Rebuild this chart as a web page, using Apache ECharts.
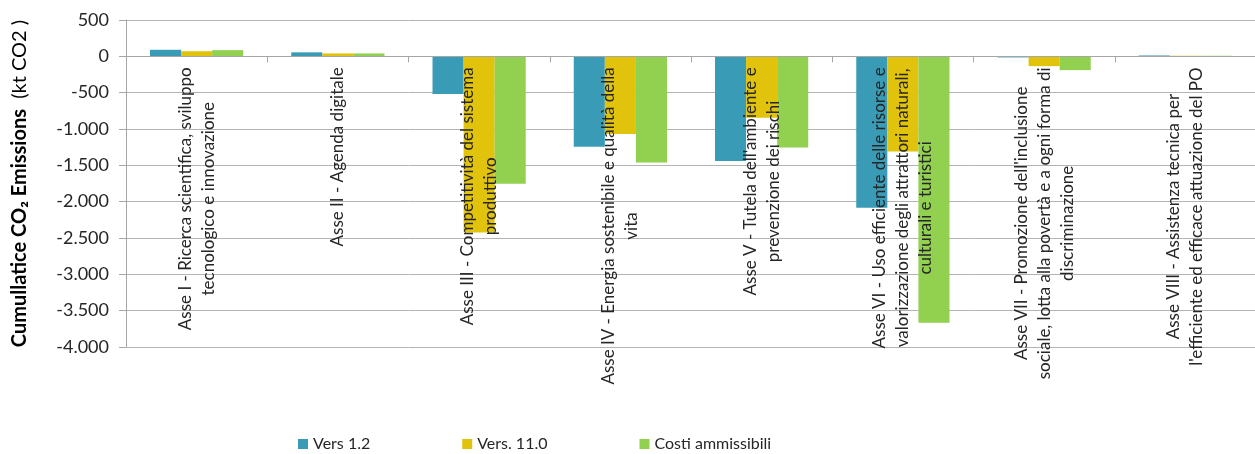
<!DOCTYPE html>
<html>
<head>
<meta charset="utf-8">
<script src="https://cdn.jsdelivr.net/npm/echarts@6/dist/echarts.min.js"></script>
<style>
  html, body { margin: 0; padding: 0; background: #fff; }
  #chart { width: 1255px; height: 454px; }
</style>
</head>
<body>
<div id="chart"></div>
<script>
// Priority axes of the programme (each label split into its display lines)
const categories = [
  ['Asse I - Ricerca scientifica, sviluppo', 'tecnologico e innovazione'],
  ['Asse II - Agenda digitale'],
  ['Asse III - Competitività del sistema', 'produttivo'],
  ['Asse IV - Energia sostenibile e qualità della', 'vita'],
  ['Asse V - Tutela dell\'ambiente e', 'prevenzione dei rischi'],
  ['Asse VI - Uso efficiente delle risorse e', 'valorizzazione degli attrattori naturali,', 'culturali e turistici'],
  ['Asse VII - Promozione dell\'inclusione', 'sociale, lotta alla povertà e a ogni forma di', 'discriminazione'],
  ['Asse VIII - Assistenza tecnica per', 'l\'efficiente ed efficace attuazione del PO']
];

// Cumulative CO2 emissions (kt CO2) per axis
const vers12   = [90, 55, -520, -1245, -1440, -2085, -15, 12];
const vers110  = [70, 40, -2425, -1070, -845, -1310, -135, 8];
const costi    = [85, 40, -1755, -1460, -1255, -3665, -190, 8];

const seriesNames = ['Vers 1.2', 'Vers. 11.0', 'Costi ammissibili'];
const seriesColors = ['#3A9BB7', '#E0C30A', '#92D050'];

const yTicks = { min: -4000, max: 500, step: 500 };

const FONT = 'Lato';
const CHART_H = 454;
const GRID = { left: 126, right: -1, top: 20, bottom: 107 };

// The category axis sits on the zero line, with its labels hanging below it
const plotH = CHART_H - GRID.top - GRID.bottom;
const zeroOffset = -plotH * (0 - yTicks.min) / (yTicks.max - yTicks.min);

function thousands(v) {
  const s = Math.abs(v).toString().replace(/\B(?=(\d{3})+(?!\d))/g, '.');
  return (v < 0 ? '-' : '') + s;
}

const chart = echarts.init(document.getElementById('chart'), null, { renderer: 'canvas' });

chart.setOption({
  animation: false,
  backgroundColor: '#ffffff',
  textStyle: { fontFamily: FONT },
  grid: Object.assign({ containLabel: false, outerBoundsMode: 'none' }, GRID),
  legend: {
    top: 431,
    left: 293,
    itemWidth: 10,
    itemHeight: 10,
    itemGap: 92,
    icon: 'rect',
    textStyle: { fontFamily: FONT, fontSize: 16, color: '#262626' },
    data: seriesNames
  },
  xAxis: {
    type: 'category',
    position: 'bottom',
    offset: zeroOffset,
    z: 5,
    data: categories.map(lines => lines.join('\n')),
    axisLine: { onZero: false, lineStyle: { color: '#A6A6A6', width: 1 } },
    axisTick: { show: true, length: 6, lineStyle: { color: '#A6A6A6' } },
    splitLine: { show: false },
    axisLabel: {
      interval: 0,
      rotate: 90,
      margin: 11,
      hideOverlap: false,
      fontFamily: FONT,
      fontSize: 17,
      color: '#262626',
      lineHeight: 23,
      formatter: function (value) {
        return value.split('\n').map(l => '{c|' + l + '}').join('\n');
      },
      rich: {
        c: { align: 'center', fontFamily: FONT, fontSize: 17, color: '#262626', lineHeight: 23 }
      }
    }
  },
  yAxis: {
    type: 'value',
    min: yTicks.min,
    max: yTicks.max,
    interval: yTicks.step,
    name: '{b|Cumullatice CO₂ Emissions}{r|  (kt CO2 )}',
    nameLocation: 'middle',
    nameGap: 96,
    nameRotate: 90,
    nameTextStyle: {
      rich: {
        b: { fontFamily: FONT, fontSize: 20, fontWeight: 'bold', color: '#000000' },
        r: { fontFamily: FONT, fontSize: 20, color: '#000000' }
      }
    },
    axisLine: { show: true, lineStyle: { color: '#A6A6A6', width: 1 } },
    axisTick: { show: true, length: 7, lineStyle: { color: '#A6A6A6' } },
    splitLine: { show: true, lineStyle: { color: '#B4B4B4', width: 1 } },
    axisLabel: {
      margin: 17,
      showMinLabel: true,
      showMaxLabel: true,
      hideOverlap: false,
      fontFamily: FONT,
      fontSize: 18,
      color: '#262626',
      formatter: thousands
    }
  },
  series: [vers12, vers110, costi].map((vals, i) => ({
    name: seriesNames[i],
    type: 'bar',
    data: vals,
    barGap: '0%',
    barCategoryGap: '34%',
    itemStyle: { color: seriesColors[i] }
  }))
});
</script>
</body>
</html>
